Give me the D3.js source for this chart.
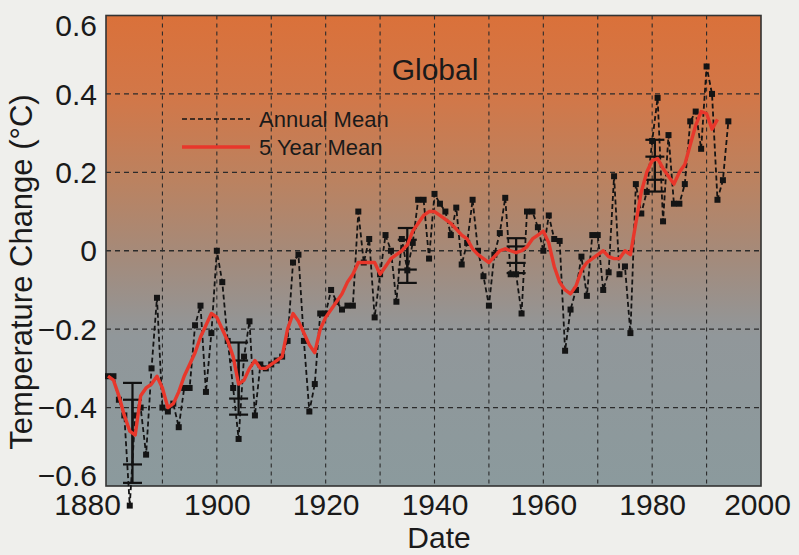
<!DOCTYPE html>
<html>
<head>
<meta charset="utf-8">
<script src="https://cdn.jsdelivr.net/npm/d3@7"></script>
<style>
  body { margin: 0; background: #efefec; }
  svg text { font-family: "Liberation Sans", Arial, Helvetica, sans-serif; fill: #1a1a1a; }
</style>
</head>
<body>
<div id="chart"></div>
<script>
// annual mean temperature change (deg C)
var annualYears = d3.range(1880, 1995);
var annualValues = [
  -0.32, -0.32, -0.38, -0.42, -0.65, -0.42, -0.40, -0.52, -0.30, -0.12,
  -0.40, -0.41, -0.39, -0.45, -0.35, -0.35, -0.19, -0.14, -0.36, -0.21,
   0.00, -0.08, -0.23, -0.35, -0.48, -0.27, -0.18, -0.42, -0.29, -0.30,
  -0.29, -0.28, -0.27, -0.23, -0.03, -0.01, -0.23, -0.41, -0.34, -0.16,
  -0.16, -0.10, -0.13, -0.15, -0.14, -0.14,  0.10, -0.03,  0.03, -0.17,
  -0.06,  0.04,  0.00, -0.13,  0.03, -0.05,  0.02,  0.13,  0.13, -0.02,
   0.145, 0.12,  0.10,  0.04,  0.11, -0.035, 0.02,  0.13,  0.00, -0.065,
  -0.14, -0.01,  0.045, 0.135,-0.06, -0.06, -0.16,  0.10,  0.10,  0.06,
   0.00,  0.09,  0.03,  0.025,-0.255,-0.15, -0.10, -0.015,-0.115, 0.04,
   0.04, -0.10, -0.055, 0.19, -0.06, -0.04, -0.21,  0.17,  0.095, 0.15,
   0.28,  0.39,  0.075, 0.295, 0.12,  0.12,  0.17,  0.33,  0.355, 0.26,
   0.47,  0.40,  0.13,  0.18,  0.33
];

// 5 year mean (red curve)
var meanYears = d3.range(1880, 1993);
var meanValues = [
  -0.32, -0.33, -0.37, -0.42, -0.46, -0.47, -0.37, -0.35, -0.34, -0.32,
  -0.35, -0.40, -0.39, -0.36, -0.32, -0.29, -0.26, -0.22, -0.19, -0.16,
  -0.17, -0.20, -0.23, -0.27, -0.34, -0.33, -0.30, -0.28, -0.30, -0.30,
  -0.29, -0.28, -0.27, -0.20, -0.16, -0.18, -0.21, -0.24, -0.26, -0.20,
  -0.17, -0.15, -0.13, -0.11, -0.08, -0.06, -0.03, -0.03, -0.03, -0.03,
  -0.06, -0.04, -0.02, -0.01,  0.00,  0.015, 0.05,  0.07,  0.09,  0.10,
   0.10,  0.09,  0.08,  0.07,  0.055, 0.04,  0.03,  0.005,-0.01, -0.02,
  -0.03, -0.015, 0.00,  0.005, 0.00, -0.005, 0.00,  0.01,  0.03,  0.04,
   0.05,  0.02, -0.04, -0.08, -0.10, -0.11, -0.09, -0.05, -0.03, -0.02,
  -0.01,  0.00, -0.015,-0.02, -0.02,  0.00, -0.01,  0.07,  0.15,  0.20,
   0.23,  0.235, 0.21,  0.19,  0.17,  0.20,  0.22,  0.27,  0.32,  0.355,
   0.35,  0.31,  0.335
];

// error bars: two per location
var errYears = [1884.5, 1884.5, 1904, 1904, 1935, 1935, 1955, 1955, 1980.5, 1980.5];
var errLow   = [-0.545, -0.592, -0.377, -0.418, -0.048, -0.082, -0.031, -0.057, 0.181, 0.151];
var errHigh  = [-0.337, -0.38, -0.234, -0.28, 0.058, 0.028, 0.032, 0.011, 0.283, 0.24];

var xTicks = [1880, 1900, 1920, 1940, 1960, 1980, 2000];
var xGrid = d3.range(1890, 2000, 10);
var yTicks = [-0.6, -0.4, -0.2, 0, 0.2, 0.4, 0.6];
var yGrid = [-0.4, -0.2, 0, 0.2, 0.4];

var fullWidth = 799, fullHeight = 555;
var plotLeft = 106, plotRight = 761, plotTop = 15.5, plotBottom = 486;

var svg = d3.select("#chart").append("svg")
  .attr("width", fullWidth)
  .attr("height", fullHeight);

var xScale = d3.scaleLinear().domain([1880, 2000]).range([108, 761]);
var yScale = d3.scaleLinear().domain([-0.6, 0.6]).range([plotBottom, plotTop]);

// background gradient of the plot area
var defs = svg.append("defs");
var grad = defs.append("linearGradient").attr("id", "bg")
  .attr("x1", 0).attr("y1", 0).attr("x2", 0).attr("y2", 1);
grad.append("stop").attr("offset", "0%").attr("stop-color", "#da713a");
grad.append("stop").attr("offset", "17%").attr("stop-color", "#d27748");
grad.append("stop").attr("offset", "35%").attr("stop-color", "#bb8260");
grad.append("stop").attr("offset", "52%").attr("stop-color", "#a38b7c");
grad.append("stop").attr("offset", "68%").attr("stop-color", "#91979a");
grad.append("stop").attr("offset", "100%").attr("stop-color", "#8b9a9d");

svg.append("rect")
  .attr("x", plotLeft).attr("y", plotTop)
  .attr("width", plotRight - plotLeft).attr("height", plotBottom - plotTop)
  .attr("fill", "url(#bg)");

// grid
svg.append("g").selectAll("line")
  .data(yGrid).enter().append("line")
  .attr("x1", plotLeft).attr("x2", plotRight)
  .attr("y1", d => yScale(d)).attr("y2", d => yScale(d))
  .attr("stroke", "#2b2b2b").attr("stroke-width", 1.3)
  .attr("stroke-dasharray", "5,4");

svg.append("g").selectAll("line")
  .data(xGrid).enter().append("line")
  .attr("x1", d => xScale(d)).attr("x2", d => xScale(d))
  .attr("y1", plotTop).attr("y2", plotBottom)
  .attr("stroke", "#2b2b2b").attr("stroke-width", 1.1)
  .attr("stroke-dasharray", "4,4");

// frame
svg.append("rect")
  .attr("x", plotLeft).attr("y", plotTop)
  .attr("width", plotRight - plotLeft).attr("height", plotBottom - plotTop)
  .attr("fill", "none").attr("stroke", "#333").attr("stroke-width", 1.6);

// error bars
var errG = svg.append("g").attr("stroke", "#111").attr("stroke-width", 2.2);
errYears.forEach(function(yr, i) {
  var cx = xScale(yr);
  errG.append("line").attr("x1", cx).attr("x2", cx)
    .attr("y1", yScale(errLow[i])).attr("y2", yScale(errHigh[i]));
  [errLow[i], errHigh[i]].forEach(function(v) {
    errG.append("line").attr("x1", cx - 9.5).attr("x2", cx + 9.5)
      .attr("y1", yScale(v)).attr("y2", yScale(v));
  });
});

// annual mean
var annual = annualYears.map((y, i) => ({ year: y, value: annualValues[i] }));
var line = d3.line().x(d => xScale(d.year)).y(d => yScale(d.value));

svg.append("path")
  .attr("d", line(annual))
  .attr("fill", "none")
  .attr("stroke", "#141414")
  .attr("stroke-width", 1.8)
  .attr("stroke-dasharray", "5,3");

svg.append("g").selectAll("rect")
  .data(annual).enter().append("rect")
  .attr("x", d => xScale(d.year) - 3)
  .attr("y", d => yScale(d.value) - 3)
  .attr("width", 6).attr("height", 6)
  .attr("fill", "#141414");

// 5 year mean
var mean5 = meanYears.map((y, i) => ({ year: y, value: meanValues[i] }));
svg.append("path")
  .attr("d", line(mean5))
  .attr("fill", "none")
  .attr("stroke", "#e8372b")
  .attr("stroke-width", 3.4)
  .attr("stroke-linejoin", "round");

// axes (labels only)
var xAxis = svg.append("g")
  .attr("transform", "translate(0," + plotBottom + ")")
  .call(d3.axisBottom(xScale).tickValues(xTicks).tickSize(0).tickFormat(d3.format("d")));
xAxis.select(".domain").remove();
xAxis.selectAll("text")
  .attr("y", 0).attr("dy", "29px")
  .style("font-size", "30px")
  .attr("dx", d => d == 1880 ? -21 : (d == 2000 ? -4 : 0));

var yAxis = svg.append("g")
  .attr("transform", "translate(" + 97 + ",0)")
  .call(d3.axisLeft(yScale).tickValues(yTicks).tickSize(0).tickFormat(d => d == 0 ? "0" : d3.format(".1f")(d)));
yAxis.select(".domain").remove();
yAxis.selectAll("text")
  .attr("x", 0)
  .style("font-size", "30px")
  .attr("dy", d => d == 0.6 ? "0.68em" : (d == -0.6 ? "-0.03em" : "0.34em"));

// axis titles
svg.append("text")
  .attr("x", 439).attr("y", 548)
  .style("text-anchor", "middle")
  .style("font-size", "30px")
  .text("Date");

svg.append("text")
  .attr("transform", "translate(32,272) rotate(-90)")
  .style("text-anchor", "middle")
  .style("font-size", "31px")
  .text("Temperature Change (°C)");

// title inside the plot
svg.append("text")
  .attr("x", 435).attr("y", 80)
  .style("text-anchor", "middle")
  .style("font-size", "30px")
  .text("Global");

// legend
svg.append("line")
  .attr("x1", 182).attr("x2", 250).attr("y1", 119).attr("y2", 119)
  .attr("stroke", "#141414").attr("stroke-width", 1.6).attr("stroke-dasharray", "5,3");
svg.append("line")
  .attr("x1", 182).attr("x2", 250).attr("y1", 147).attr("y2", 147)
  .attr("stroke", "#e8372b").attr("stroke-width", 3.4);
svg.append("text").attr("x", 259).attr("y", 127).style("font-size", "22px").text("Annual Mean");
svg.append("text").attr("x", 259).attr("y", 155).style("font-size", "22px").text("5 Year Mean");
</script>
</body>
</html>
